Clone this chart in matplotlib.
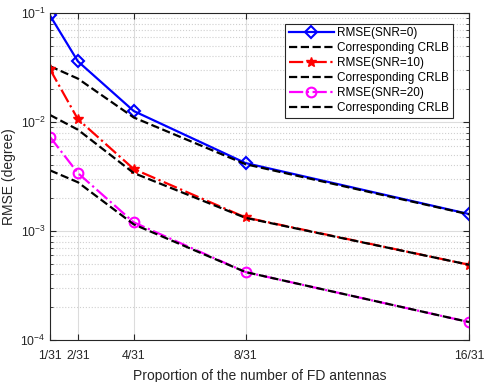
import numpy as np
import matplotlib
matplotlib.use("Agg")
import matplotlib.pyplot as plt

# x positions = number of FD antennas out of 31
n_fd = [1, 2, 4, 8, 16]
tick_labels = ['1/31', '2/31', '4/31', '8/31', '16/31']

rmse_snr0  = [0.095, 0.036, 0.0126, 0.0042, 0.00143]
crlb_snr0  = [0.0325, 0.025, 0.011, 0.0041, 0.00142]
rmse_snr10 = [0.0305, 0.0106, 0.0037, 0.00133, 0.00049]
crlb_snr10 = [0.0116, 0.0085, 0.0034, 0.00132, 0.00049]
rmse_snr20 = [0.0073, 0.0034, 0.0012, 0.00042, 0.000146]
crlb_snr20 = [0.0036, 0.0028, 0.00115, 0.00042, 0.000146]

plt.rcParams.update({
    'font.family':      ['Liberation Sans', 'DejaVu Sans'],
    'mathtext.fontset': 'custom',
    'mathtext.rm':      'Liberation Sans',
    'mathtext.it':      'Liberation Sans',
    'font.size':        8.8,
    'xtick.direction':  'in',
    'ytick.direction':  'in',
})

fig = plt.figure(figsize=(4.85, 3.82), dpi=100)
ax = fig.add_axes([0.103, 0.110, 0.864, 0.856])

ax.plot(n_fd, rmse_snr0, color='blue', ls='-', lw=1.6, marker='D',
        mfc='none', mec='blue', ms=6, mew=1.5, label='RMSE(SNR=0)')
ax.plot(n_fd, crlb_snr0, color='black', ls='--', lw=1.6, label='Corresponding CRLB')
ax.plot(n_fd, rmse_snr10, color='red', ls='-.', lw=1.6, marker='*',
        ms=7, mec='red', mfc='red', label='RMSE(SNR=10)')
ax.plot(n_fd, crlb_snr10, color='black', ls='--', lw=1.6, label='Corresponding CRLB')
ax.plot(n_fd, rmse_snr20, color='magenta', ls='-.', lw=1.6, marker='o',
        mfc='none', mec='magenta', ms=7, mew=1.5, label='RMSE(SNR=20)')
ax.plot(n_fd, crlb_snr20, color='black', ls='--', lw=1.6, label='Corresponding CRLB')

ax.set_yscale('log')
ax.set_ylim(1e-4, 1e-1)
ax.set_xlim(1, 16)
ax.set_xticks(n_fd)
ax.set_xticklabels(tick_labels)
ax.tick_params(which='both', top=True, right=True, colors='#262626', labelcolor='#262626')
ax.tick_params(axis='x', which='major', length=4, pad=7)
ax.tick_params(axis='y', which='major', length=4, pad=3)
ax.tick_params(which='minor', length=2)

ax.grid(True, which='major', color='#dcdcdc', lw=0.8)
ax.grid(True, which='minor', color='#d0d0d0', ls=':', lw=0.8)
ax.set_axisbelow(True)
for s in ax.spines.values():
    s.set_color('#262626')
    s.set_linewidth(0.8)

ax.set_xlabel('Proportion of the number of FD antennas', fontsize=10, color='#262626', labelpad=5)
ax.set_ylabel('RMSE (degree)', fontsize=10, color='#262626')
ax.yaxis.set_label_coords(-0.082, 0.5)

leg = ax.legend(loc='upper right', bbox_to_anchor=(0.975, 0.985), fontsize=8.5,
                fancybox=False, framealpha=1, edgecolor='#262626',
                handlelength=3.8, borderpad=0.3, labelspacing=0.25, handletextpad=0.3)
leg.get_frame().set_linewidth(0.8)

fig.savefig('out.png', dpi=100)
